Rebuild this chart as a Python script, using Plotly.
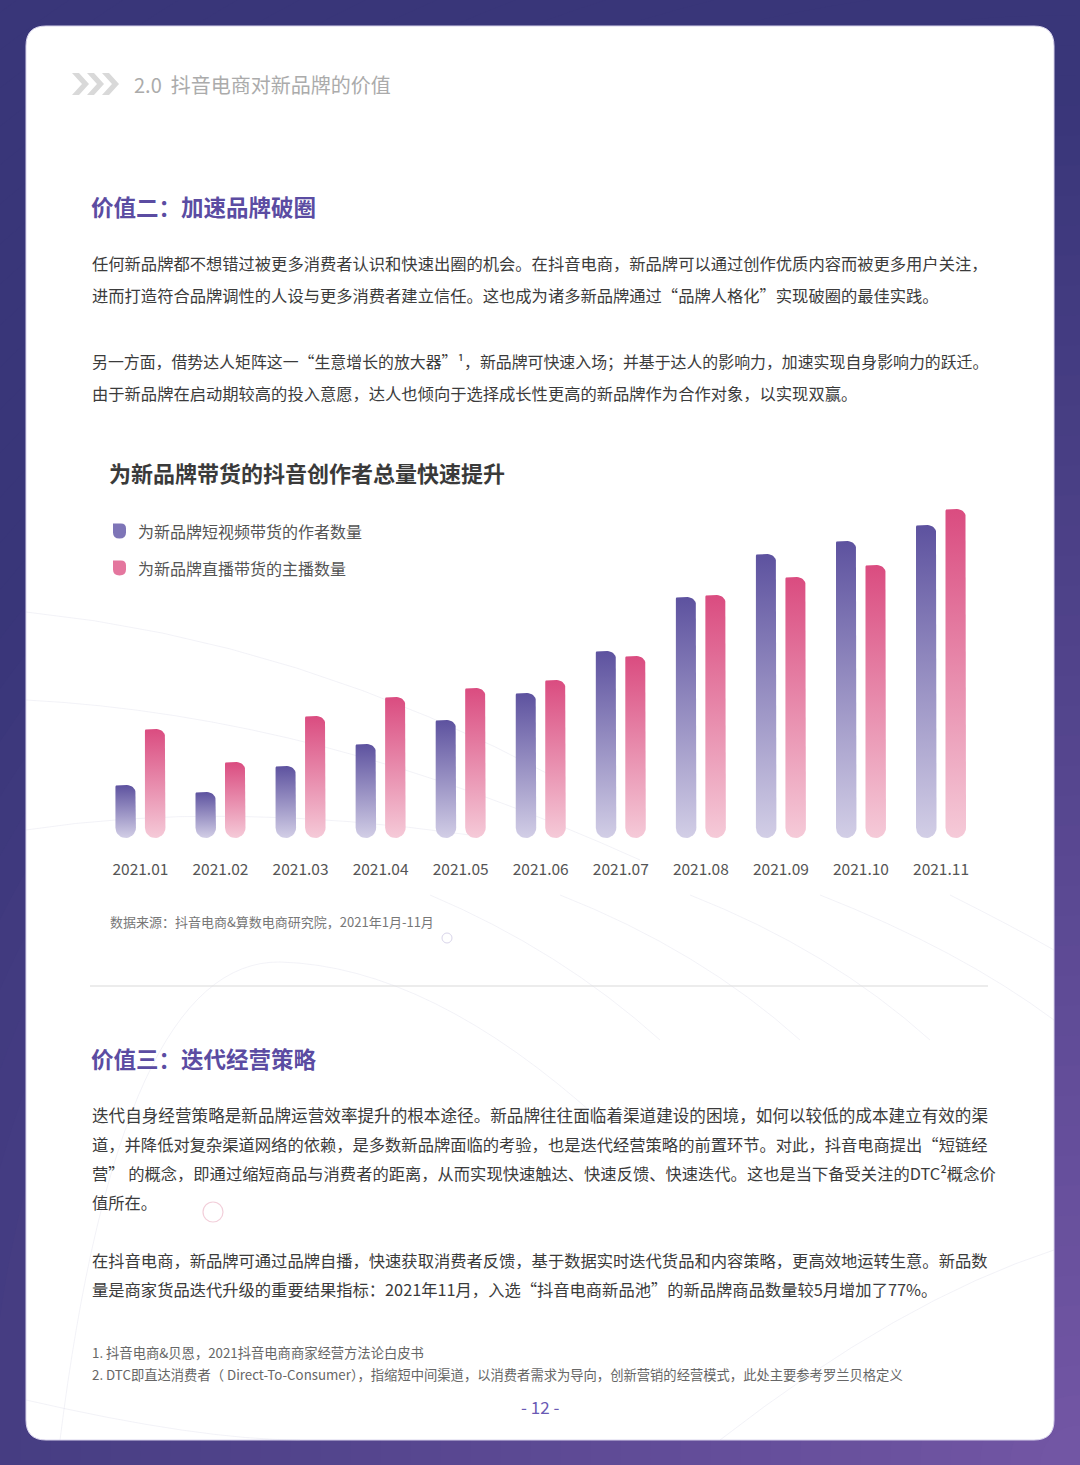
import plotly.graph_objects as go
import numpy as np

W, H = 1080, 1465

# ---------------- data ----------------
months = ["2021.01", "2021.02", "2021.03", "2021.04", "2021.05", "2021.06",
          "2021.07", "2021.08", "2021.09", "2021.10", "2021.11"]
short_video_creators = [53, 46, 72, 94, 118, 145, 187, 241, 284, 297, 313]
live_streamers = [109, 76, 122, 141, 150, 158, 182, 243, 261, 273, 329]
series_names = ["为新品牌短视频带货的作者数量", "为新品牌直播带货的主播数量"]

chart_title = "为新品牌带货的抖音创作者总量快速提升"
source_note = "数据来源：抖音电商&算数电商研究院，2021年1月-11月"

FONT = "Noto Sans CJK SC, Noto Sans, sans-serif"


def px(x):
    return x / W


def py(y):
    return 1 - y / H


fig = go.Figure()
shapes = []
ann = []

# ---------------- page background (radial purple) ----------------
dark = np.array([57, 54, 121])
purple = np.array([116, 87, 166])
for R in range(1900, 20, -30):
    t = min(R / 1400.0, 1.0)
    c = purple + (dark - purple) * t
    col = "rgb(%d,%d,%d)" % tuple(c.astype(int))
    shapes.append(dict(type="circle", xref="paper", yref="paper",
                       x0=px(W - R), x1=px(W + R), y0=py(H + R), y1=py(H - R),
                       fillcolor=col, line=dict(width=0), layer="below"))


def P(x, y):
    return "%.5f,%.5f" % (px(x), py(y))


# white card
x0c, y0c, x1c, y1c, r = 26, 26, 1054, 1440, 20
card = ("M " + P(x0c + r, y0c) + " L " + P(x1c - r, y0c) +
        " Q " + P(x1c, y0c) + " " + P(x1c, y0c + r) +
        " L " + P(x1c, y1c - r) + " Q " + P(x1c, y1c) + " " + P(x1c - r, y1c) +
        " L " + P(x0c + r, y1c) + " Q " + P(x0c, y1c) + " " + P(x0c, y1c - r) +
        " L " + P(x0c, y0c + r) + " Q " + P(x0c, y0c) + " " + P(x0c + r, y0c) + " Z")
shapes.append(dict(type="path", xref="paper", yref="paper", path=card,
                   fillcolor="white", line=dict(color="#D9D4EC", width=1), layer="below"))

# faint decorative curves
deco = [
    [(26, 612), (300, 640), (560, 780)],
    [(26, 700), (320, 715), (640, 860)],
    [(26, 830), (220, 800), (470, 835)],
    [(60, 1440), (120, 960), (280, 962)],
    [(280, 962), (430, 966), (600, 1120)],
    [(430, 895), (560, 950), (660, 1040)],
    [(560, 895), (700, 950), (800, 1040)],
    [(690, 895), (830, 950), (930, 1040)],
    [(820, 895), (960, 950), (1054, 1020)],
    [(950, 895), (1010, 925), (1054, 950)],
    [(720, 1440), (900, 1300), (1054, 1250)],
    [(26, 1400), (200, 1440), (300, 1440)],
]
for (a, b, c) in deco:
    shapes.append(dict(type="path", xref="paper", yref="paper",
                       path="M " + P(*a) + " Q " + P(*b) + " " + P(*c),
                       line=dict(color="rgba(205,205,225,0.25)", width=1), layer="below"))

# small decorative circles
shapes.append(dict(type="circle", xref="paper", yref="paper",
                   x0=px(442), x1=px(452), y0=py(943), y1=py(933),
                   line=dict(color="#D9D5EA", width=1), layer="below"))
shapes.append(dict(type="circle", xref="paper", yref="paper",
                   x0=px(203), x1=px(223), y0=py(1222), y1=py(1202),
                   line=dict(color="#F2CFDA", width=1.2), layer="below"))

# header chevrons
for k in range(3):
    xs = 72 + k * 15
    pts = [(xs, 73), (xs + 7, 73), (xs + 17, 84), (xs + 7, 95), (xs, 95), (xs + 10, 84)]
    pth = "M " + " L ".join(P(*p) for p in pts) + " Z"
    shapes.append(dict(type="path", xref="paper", yref="paper", path=pth,
                       fillcolor="#D9D9D9", line=dict(width=0), layer="below"))

# separator line
shapes.append(dict(type="line", xref="paper", yref="paper",
                   x0=px(90), x1=px(988), y0=py(986), y1=py(986),
                   line=dict(color="#DADADA", width=1.2), layer="below"))

# ---------------- bar chart (rounded gradient bars) ----------------
X_LEFT_PX = 100.4
XU = 80.06           # pixels per category
Y_BASE_PX = 838
YU = 1.0             # pixels per value unit
Y_MAX = 340
HALF_W = 10.25
OFFS = [-14.75, 14.75]

colors = [("#D2CEE6", "#5D529F"), ("#F5CAD8", "#DA4C80")]


def bar_outline(center, value):
    r = HALF_W
    rl, rr = 2.0, 9.0
    xs, ys = [], []
    for th in np.linspace(np.pi, 2 * np.pi, 16):
        xs.append(r * np.cos(th)); ys.append(r + r * np.sin(th))
    top = value * YU
    for th in np.linspace(0, np.pi / 2, 10):
        xs.append(r - rr + rr * np.cos(th)); ys.append(top - rr + rr * np.sin(th))
    for th in np.linspace(np.pi / 2, np.pi, 5):
        xs.append(-r + rl + rl * np.cos(th)); ys.append(top - rl + rl * np.sin(th))
    xs.append(-r); ys.append(r)
    xs = [center + v / XU for v in xs]
    ys = [v / YU for v in ys]
    return xs, ys


for s, vals in enumerate([short_video_creators, live_streamers]):
    for i, v in enumerate(vals):
        cx = i + OFFS[s] / XU
        xs, ys = bar_outline(cx, v)
        fig.add_trace(go.Scatter(
            x=xs, y=ys, mode="lines", fill="toself", line=dict(width=0, color=colors[s][1]),
            fillgradient=dict(type="vertical",
                              colorscale=[[0, colors[s][0]], [1, colors[s][1]]]),
            name=series_names[s], hoverinfo="skip", showlegend=False))

fig.update_xaxes(range=[-0.5, 10.5], domain=[px(X_LEFT_PX), px(X_LEFT_PX + 11 * XU)],
                 tickvals=list(range(len(months))), ticktext=months,
                 tickfont=dict(size=15.5, color="#555555", family=FONT),
                 ticks="outside", ticklen=17, tickcolor="rgba(0,0,0,0)",
                 showgrid=False, zeroline=False, showline=False, fixedrange=True)
fig.update_yaxes(range=[0, Y_MAX], domain=[py(Y_BASE_PX), py(Y_BASE_PX - Y_MAX * YU)],
                 visible=False, showgrid=False, zeroline=False, fixedrange=True)

# legend markers (custom)
for k, (yc, col) in enumerate([(531, "#7E75B7"), (568, "#E4769E")]):
    xa, xb, ya, yb = 113, 126, yc - 7.5, yc + 7.5
    pth = ("M " + P(xa, ya) + " L " + P(xb - 5, ya) + " Q " + P(xb, ya) + " " + P(xb, ya + 5) +
           " L " + P(xb, yb - 6) + " Q " + P(xb, yb) + " " + P(xb - 6.5, yb) +
           " Q " + P(xa, yb) + " " + P(xa, yb - 6) + " Z")
    shapes.append(dict(type="path", xref="paper", yref="paper", path=pth,
                       fillcolor=col, line=dict(width=0), layer="below"))


# ---------------- text ----------------
def txt(x, y, s, size, color, weight=400, anchor="left"):
    ann.append(dict(x=px(x), y=py(y), xref="paper", yref="paper", text=s,
                    showarrow=False, xanchor=anchor, yanchor="middle",
                    font=dict(size=size, color=color, family=FONT, weight=weight)))


BODY = "#3B3B3B"
HEAD = "#5B4CA2"
BS = 16.3

txt(132, 85, "2.0  抖音电商对新品牌的价值", 20, "#ABABAB")
txt(89, 206, "价值二：加速品牌破圈", 22.5, HEAD, 700)
txt(90, 263, "任何新品牌都不想错过被更多消费者认识和快速出圈的机会。在抖音电商，新品牌可以通过创作优质内容而被更多用户关注，", BS, BODY)
txt(90, 295, "进而打造符合品牌调性的人设与更多消费者建立信任。这也成为诸多新品牌通过“品牌人格化”实现破圈的最佳实践。", BS, BODY)
txt(90, 361, "另一方面，借势达人矩阵这一“生意增长的放大器”¹，新品牌可快速入场；并基于达人的影响力，加速实现自身影响力的跃迁。", 15.9, BODY)
txt(90, 393, "由于新品牌在启动期较高的投入意愿，达人也倾向于选择成长性更高的新品牌作为合作对象，以实现双赢。", BS, BODY)

txt(107, 472, chart_title, 22, "#3A3A3A", 700)
txt(136, 531, series_names[0], 16, "#555555")
txt(136, 568, series_names[1], 16, "#555555")
txt(108, 921, source_note, 13, "#777777")

txt(89, 1058, "价值三：迭代经营策略", 22.5, HEAD, 700)
txt(90, 1115, "迭代自身经营策略是新品牌运营效率提升的根本途径。新品牌往往面临着渠道建设的困境，如何以较低的成本建立有效的渠", 16.6, BODY)
txt(90, 1144, "道，并降低对复杂渠道网络的依赖，是多数新品牌面临的考验，也是迭代经营策略的前置环节。对此，抖音电商提出“短链经", BS, BODY)
txt(90, 1173, "营” 的概念，即通过缩短商品与消费者的距离，从而实现快速触达、快速反馈、快速迭代。这也是当下备受关注的DTC²概念价", BS, BODY)
txt(90, 1202, "值所在。", BS, BODY)
txt(90, 1260, "在抖音电商，新品牌可通过品牌自播，快速获取消费者反馈，基于数据实时迭代货品和内容策略，更高效地运转生意。新品数", BS, BODY)
txt(90, 1289, "量是商家货品迭代升级的重要结果指标：2021年11月，入选“抖音电商新品池”的新品牌商品数量较5月增加了77%。", BS, BODY)

txt(90, 1352, "1. 抖音电商&贝恩，2021抖音电商商家经营方法论白皮书", 13.3, "#666666")
txt(90, 1374, "2. DTC即直达消费者（ Direct-To-Consumer），指缩短中间渠道，以消费者需求为导向，创新营销的经营模式，此处主要参考罗兰贝格定义", 13.3, "#666666")
txt(540, 1406, "- 12 -", 17, "#6A5AB4", 400, "center")

fig.update_layout(width=W, height=H, margin=dict(l=0, r=0, t=0, b=0),
                  paper_bgcolor="#393679", plot_bgcolor="rgba(0,0,0,0)",
                  showlegend=False, shapes=shapes, annotations=ann)

fig.write_html("out.html")
